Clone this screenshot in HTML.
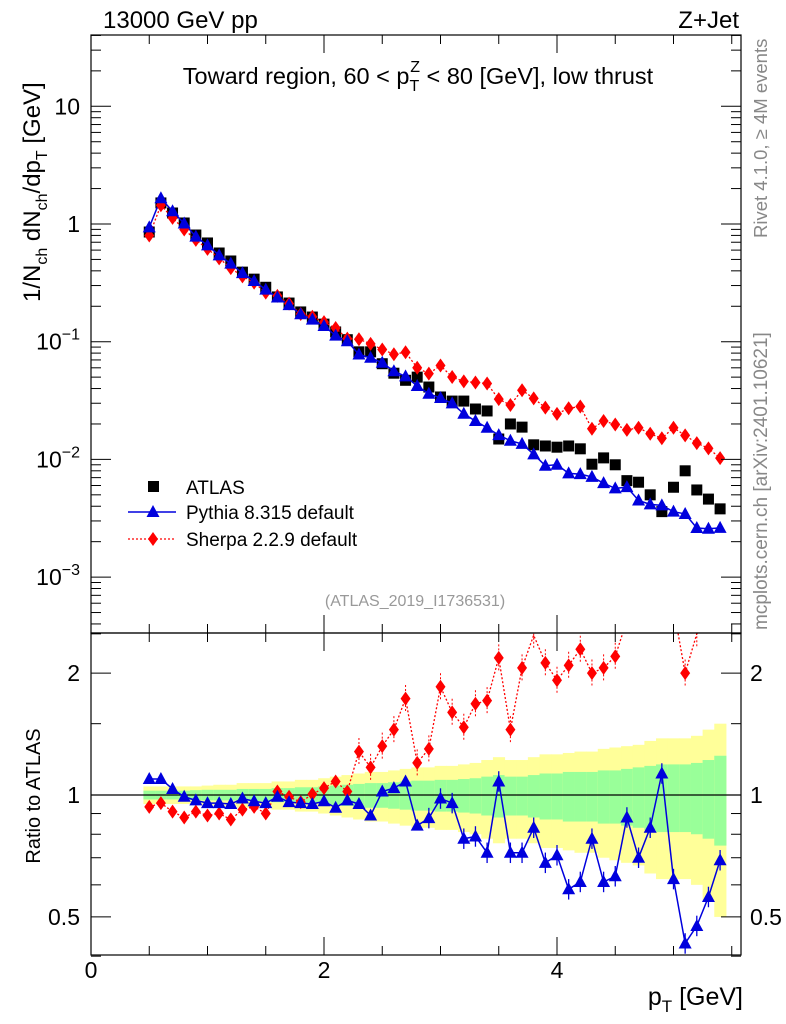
<!DOCTYPE html>
<html><head><meta charset="utf-8"><style>
html,body{margin:0;padding:0;background:#fff;}
svg{display:block;font-family:"Liberation Sans",Arial,sans-serif;}
</style></head><body>
<svg id="c" width="786" height="1024" viewBox="0 0 786 1024"></svg>
<script>
const xs = [];
for (let i = 0; i < 50; i++) xs.push(+(0.5 + 0.1 * i).toFixed(2));
const atlas = [0.855,1.51,1.24,1.02,0.806,0.69,0.567,0.485,0.39,0.34,0.29,0.24,0.213,0.179,0.162,0.141,0.121,0.104,0.082,0.082,0.065,0.054,0.047,0.050,
0.0412,0.0339,0.0313,0.0313,0.0268,0.0258,0.0149,0.0200,0.0188,0.0133,0.0130,0.0127,0.0130,0.0123,0.0091,0.0103,0.0090,0.0066,0.0064,0.0050,0.0036,0.0058,0.0080,0.0055,0.0046,0.0038];
const pythiaRatio = [1.095,1.095,1.035,0.99,0.97,0.955,0.955,0.95,0.98,0.965,0.955,0.99,0.96,0.955,0.95,0.965,0.93,0.97,0.95,0.89,1.02,1.04,1.08,0.84,
0.877,0.98,0.955,0.78,0.79,0.72,1.08,0.72,0.72,0.83,0.68,0.71,0.585,0.61,0.78,0.61,0.63,0.88,0.70,0.83,1.13,0.62,0.43,0.475,0.56,0.69];
const sherpaRatio = [0.935,0.955,0.91,0.88,0.91,0.89,0.90,0.87,0.92,0.935,0.90,1.02,0.99,0.96,1.005,1.04,1.08,1.02,1.28,1.17,1.32,1.45,1.73,1.2,
1.30,1.85,1.60,1.47,1.68,1.71,2.18,1.45,2.06,2.48,2.12,1.92,2.09,2.29,2.0,2.06,2.2,2.7,2.9,3.3,4.2,3.2,2.0,2.5,2.7,2.7];
const bandTotal = [.05,.05,.05,.05,.05,.055,.06,.06,.07,.07,.07,.08,.08,.09,.09,.10,.11,.12,.13,.14,.14,.15,.16,.17,.17,.18,.18,.19,.20,.22,.24,.22,.22,.24,.26,.26,.27,.28,.28,.30,.31,.32,.33,.36,.38,.38,.38,.40,.45,.50];
const bandStat = [.025,.025,.025,.025,.028,.03,.03,.03,.035,.035,.035,.04,.04,.045,.045,.05,.055,.06,.065,.07,.07,.075,.08,.085,.085,.09,.09,.095,.10,.11,.12,.11,.11,.12,.13,.13,.14,.14,.14,.15,.15,.16,.17,.18,.19,.19,.19,.20,.22,.25];
const yTickMain = ["10","1"];
const ratioTicks = [0.5,1,2];

const NS="http://www.w3.org/2000/svg";
const svg=document.getElementById('c');
function el(tag,attrs,parent){const e=document.createElementNS(NS,tag);for(const k in attrs)e.setAttribute(k,attrs[k]);(parent||svg).appendChild(e);return e;}
const L=91,R=741,T=35,MB=633,RB=955;
const X=v=>L+v*116.5;
const YM=v=>224-117.7*Math.log10(v);
const YR=r=>795-405*Math.log10(r);
const clipR=r=>Math.min(Math.max(r,0.35),2.9);

const defs=el('defs',{});
const cp1=el('clipPath',{id:'cm'},defs);el('rect',{x:L,y:T,width:R-L,height:MB-T},cp1);
const cp2=el('clipPath',{id:'cr'},defs);el('rect',{x:L,y:MB,width:R-L,height:RB-MB},cp2);

const gBand=el('g',{'clip-path':'url(#cr)'});


xs.forEach((x,i)=>{
  const x0=X(x-0.05),x1=X(x+0.05);
  const y=el('rect',{x:x0,y:YR(1+bandTotal[i]),width:x1-x0+0.5,height:YR(1-bandTotal[i])-YR(1+bandTotal[i]),fill:'#ffff99'},gBand);
  
  
  const g=el('rect',{x:x0,y:YR(1+bandStat[i]),width:x1-x0+0.5,height:YR(1-bandStat[i])-YR(1+bandStat[i]),fill:'#99ff99'},gBand);
  
  
});
const one=el('line',{x1:L,x2:R,y1:YR(1),y2:YR(1),stroke:'#000','stroke-width':1.2});



const gm=el('g',{'clip-path':'url(#cm)'});


const pyMain=xs.map((x,i)=>atlas[i]*pythiaRatio[i]);
const shMain=xs.map((x,i)=>atlas[i]*sherpaRatio[i]);
function tri(g,cx,cy,name){const p=el('polygon',{points:`${cx},${cy-7} ${cx-6.5},${cy+5} ${cx+6.5},${cy+5}`,fill:'#0000dd'},g);}
function dia(g,cx,cy,name){const p=el('polygon',{points:`${cx},${cy-7} ${cx-5},${cy} ${cx},${cy+7} ${cx+5},${cy}`,fill:'#ff0000'},g);}
xs.forEach((x,i)=>{const s=el('rect',{x:X(x)-5.5,y:YM(atlas[i])-5.5,width:11,height:11,fill:'#000'},gm);});
const sl=el('polyline',{points:xs.map((x,i)=>X(x)+','+YM(shMain[i])).join(' '),fill:'none',stroke:'#ff0000','stroke-width':1.3,'stroke-dasharray':'2,2'},gm);

const pl=el('polyline',{points:xs.map((x,i)=>X(x)+','+YM(pyMain[i])).join(' '),fill:'none',stroke:'#0000dd','stroke-width':1.5},gm);

xs.forEach((x,i)=>dia(gm,X(x),YM(shMain[i]),'sherpa-point'));
xs.forEach((x,i)=>tri(gm,X(x),YM(pyMain[i]),'pythia-point'));

const gr=el('g',{'clip-path':'url(#cr)'});


const sr=el('polyline',{points:xs.map((x,i)=>X(x)+','+YR(clipR(sherpaRatio[i]))).join(' '),fill:'none',stroke:'#ff0000','stroke-width':1.3,'stroke-dasharray':'2,2'},gr);

const pr=el('polyline',{points:xs.map((x,i)=>X(x)+','+YR(pythiaRatio[i])).join(' '),fill:'none',stroke:'#0000dd','stroke-width':1.5},gr);

xs.forEach((x,i)=>{
  const r=sherpaRatio[i];
  if(i>=18){const e=el('line',{x1:X(x),x2:X(x),y1:YR(r*1.08),y2:YR(r/1.08),stroke:'#ff0000','stroke-dasharray':'2,2'},gr);}
  if(r<2.45)dia(gr,X(x),YR(r),'sherpa-ratio-point');
});
xs.forEach((x,i)=>{
  const r=pythiaRatio[i];
  if(i>=24){const e=el('line',{x1:X(x),x2:X(x),y1:YR(r*1.06),y2:YR(r/1.06),stroke:'#0000dd','stroke-width':1.3},gr);}
  tri(gr,X(x),YR(r),'pythia-ratio-point');
});

const f1=el('rect',{x:L,y:T,width:R-L,height:MB-T,fill:'none',stroke:'#000','stroke-width':1.2});

const f2=el('rect',{x:L,y:MB,width:R-L,height:RB-MB,fill:'none',stroke:'#000','stroke-width':1.2});


const gt=el('g',{stroke:'#000','stroke-width':1});

for(let e=-4;e<=1;e++){for(let m=1;m<10;m++){const v=m*Math.pow(10,e);const y=YM(v);if(y<T||y>MB)continue;const len=m===1?20:10;
  el('line',{x1:L,x2:L+len,y1:y,y2:y},gt);el('line',{x1:R,x2:R-len,y1:y,y2:y},gt);}}
[0.4,0.5,0.6,0.7,0.8,0.9,1,1.5,2,2.5].forEach(r=>{const y=YR(r);const len=(r===0.5||r===1||r===2)?20:10;el('line',{x1:L,x2:L+len,y1:y,y2:y},gt);el('line',{x1:R,x2:R-len,y1:y,y2:y},gt);});
for(let v=0;v<=5.5;v+=0.5){const x=X(v);const len=(v%2===0)?18:9;
  [T,MB].forEach(y=>el('line',{x1:x,x2:x,y1:y,y2:y+len},gt));
  [MB,RB].forEach(y=>el('line',{x1:x,x2:x,y1:y,y2:y-len},gt));}

function txt(s,attrs,name){const t=el('text',attrs);t.textContent=s;return t;}
yTickMain.forEach((s,i)=>txt(s,{x:80,y:YM(i===0?10:1)+8,'text-anchor':'end','font-size':23},'y-tick-label'));
[-1,-2,-3].forEach(e=>{const t=el('text',{x:80,y:YM(Math.pow(10,e))+8,'text-anchor':'end','font-size':23});
  
  t.innerHTML='10<tspan dy="-10" font-size="16">−'+(-e)+'</tspan>';});
ratioTicks.forEach(r=>{txt(String(r),{x:80,y:YR(r)+8,'text-anchor':'end','font-size':23},'ratio-tick-label-left');
  txt(String(r),{x:750,y:YR(r)+8,'font-size':23},'ratio-tick-label-right');});
[0,2,4].forEach(v=>txt(String(v),{x:X(v),y:978,'text-anchor':'middle','font-size':23},'x-tick-label'));

txt('13000 GeV pp',{x:103,y:28,'font-size':24},'energy-label');
txt('Z+Jet',{x:739,y:28,'text-anchor':'end','font-size':24},'process-label');
const ti=el('text',{x:418,y:84,'text-anchor':'middle','font-size':23.5});

ti.innerHTML='Toward region, 60 &lt; p<tspan dy="7" font-size="16">T</tspan><tspan dy="-19" dx="-9" font-size="16">Z</tspan><tspan dy="12"> &lt; 80 [GeV], low thrust</tspan>';
const yt=el('text',{transform:'translate(40,302) rotate(-90)','font-size':24});

yt.innerHTML='1/N<tspan dy="7" font-size="16">ch</tspan><tspan dy="-7"> dN</tspan><tspan dy="7" font-size="16">ch</tspan><tspan dy="-7">/dp</tspan><tspan dy="7" font-size="16">T</tspan><tspan dy="-7"> [GeV]</tspan>';
txt('Ratio to ATLAS',{transform:'translate(40,796) rotate(-90)','font-size':20,'text-anchor':'middle'},'ratio-axis-title');
const xt=el('text',{x:743,y:1005,'text-anchor':'end','font-size':25});

xt.innerHTML='p<tspan dy="7" font-size="17">T</tspan><tspan dy="-7"> [GeV]</tspan>';
txt('Rivet 4.1.0, ≥ 4M events',{transform:'translate(767,238) rotate(-90)','font-size':18.5,fill:'#888'},'rivet-label');
txt('mcplots.cern.ch [arXiv:2401.10621]',{transform:'translate(767,630) rotate(-90)','font-size':19,fill:'#888'},'mcplots-label');
txt('(ATLAS_2019_I1736531)',{x:415,y:606,'text-anchor':'middle','font-size':16,fill:'#999'},'analysis-id');

const lg=el('g',{});

const ls=el('rect',{x:148,y:481,width:11,height:11,fill:'#000'},lg);
txt('ATLAS',{x:186,y:494,'font-size':19},'legend-atlas');
const l1=el('line',{x1:128,x2:176,y1:512,y2:512,stroke:'#0000dd','stroke-width':1.5},lg);
tri(lg,153,512,'legend-pythia-marker');
txt('Pythia 8.315 default',{x:186,y:519,'font-size':19},'legend-pythia');
const l2=el('line',{x1:128,x2:176,y1:539,y2:539,stroke:'#ff0000','stroke-width':1.3,'stroke-dasharray':'2,2'},lg);
dia(lg,153,539,'legend-sherpa-marker');
txt('Sherpa 2.2.9 default',{x:186,y:546,'font-size':19},'legend-sherpa');
</script>
</body></html>
